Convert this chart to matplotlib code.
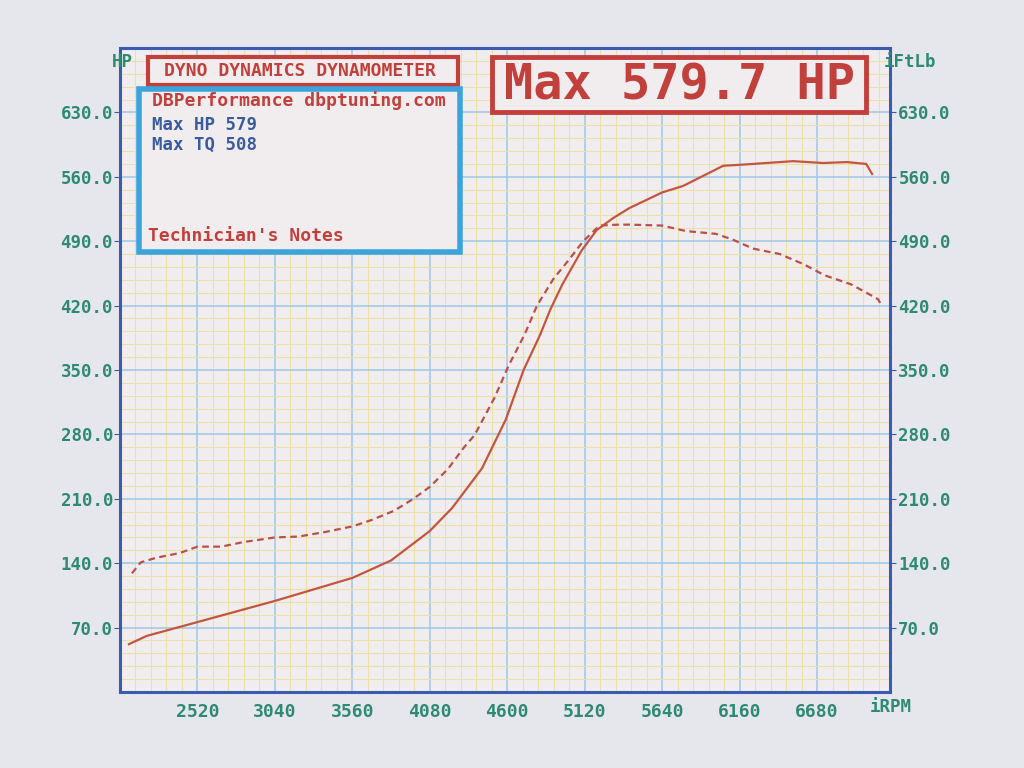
import numpy as np
import matplotlib
matplotlib.use("Agg")
import matplotlib.pyplot as plt
from matplotlib.patches import Rectangle
from matplotlib.ticker import FixedLocator

# ---------------- data ----------------
hp_rpm = [2060, 2180, 2520, 3040, 3560, 3820, 4080, 4230, 4430, 4590, 4710, 4820,
          4890, 4970, 5100, 5200, 5310, 5420, 5640, 5780, 5940, 6050, 6160, 6340,
          6520, 6720, 6880, 7010, 7050]
hp_vals = [52, 61, 76, 99, 124, 143, 175, 200, 243, 296, 350, 388,
           416, 443, 480, 502, 515, 526, 543, 550, 563, 572, 573, 575,
           577, 575, 576, 574, 563]

tq_rpm = [2080, 2140, 2245, 2400, 2520, 2680, 2830, 3040, 3200, 3380, 3560, 3690,
          3840, 3970, 4080, 4200, 4310, 4380, 4515, 4610, 4715, 4800, 4910, 5020,
          5110, 5220, 5350, 5420, 5640, 5800, 6000, 6110, 6250, 6430, 6590, 6730,
          6910, 7090, 7110]
tq_vals = [129, 141, 146, 151, 158, 158, 163, 168, 169, 174, 180, 187,
           197, 210, 223, 242, 266, 279, 320, 355, 388, 420, 449, 471,
           490, 507, 508, 508, 507, 501, 498, 492, 482, 476, 465, 453,
           443, 427, 421]

x_ticks = [2520, 3040, 3560, 4080, 4600, 5120, 5640, 6160, 6680]
y_ticks = [70, 140, 210, 280, 350, 420, 490, 560, 630]
x_tick_labels = [str(v) for v in x_ticks]
y_tick_labels = [f"{v:.1f}" for v in y_ticks]

title_small = "DYNO DYNAMICS DYNAMOMETER"
title_big = "Max 579.7 HP"
shop_line = "DBPerformance dbptuning.com"
info_lines = ["Max HP 579", "Max TQ 508"]
notes_line = "Technician's Notes"

# ---------------- style ----------------
W, H = 1024, 768
FIG_BG = "#e6e7ed"
PLOT_BG = "#f1edef"
BORDER = "#3b5bb0"
MAJOR = "#9cc8e4"
MINOR = "#ebe0a8"
LABEL = "#2e8a72"
RED = "#c2403c"
BLUE_TXT = "#3a5c9c"
BOX_BLUE = "#3ca4dc"
CURVE = "#c4553f"
MONO = "DejaVu Sans Mono"


def fx(x):
    return x / W


def fy(y):
    return 1 - y / H


fig = plt.figure(figsize=(W / 100, H / 100), dpi=100, facecolor=FIG_BG)
L, R, T, B = 120, 890, 48, 692
ax = fig.add_axes([fx(L), fy(B), fx(R) - fx(L), fy(T) - fy(B)])
ax.set_facecolor(PLOT_BG)
ax.set_xlim(2000, 7170)
ax.set_ylim(0, 700)

ax.xaxis.set_minor_locator(FixedLocator(list(np.arange(2000, 7200, 104))))
ax.yaxis.set_minor_locator(FixedLocator(list(np.arange(0, 700, 14))))
ax.set_axisbelow(True)
ax.set_xticks(x_ticks + [2000])
ax.set_xticklabels(x_tick_labels + [""])
ax.set_yticks(y_ticks)
ax.set_yticklabels(y_tick_labels)
ax.grid(which="minor", color=MINOR, lw=0.8, zorder=0)
ax.grid(which="major", color=MAJOR, lw=1.1, zorder=0.5)
ax.tick_params(which="minor", length=0)
ax.tick_params(axis="x", which="major", length=0, pad=8, labelsize=13, labelcolor=LABEL)
ax.tick_params(axis="y", which="major", length=4, color=BORDER, pad=1, labelsize=12.5,
               labelcolor=LABEL)
for lab in ax.get_xticklabels() + ax.get_yticklabels():
    lab.set_fontfamily(MONO)
    lab.set_fontweight("bold")
for sp in ax.spines.values():
    sp.set_color(BORDER)
    sp.set_linewidth(2.2)

ax2 = ax.twinx()
ax2.set_ylim(ax.get_ylim())
ax2.set_yticks(y_ticks)
ax2.set_yticklabels(y_tick_labels)
ax2.tick_params(axis="y", length=4, color=BORDER, pad=2, labelsize=12.5, labelcolor=LABEL)
for lab in ax2.get_yticklabels():
    lab.set_fontfamily(MONO)
    lab.set_fontweight("bold")
for sp in ax2.spines.values():
    sp.set_visible(False)

# curves
ax.plot(hp_rpm, hp_vals, color=CURVE, lw=1.6, zorder=3)
ax.plot(tq_rpm, tq_vals, color="#b9504a", lw=1.6, dashes=(3, 2), zorder=3)

# axis unit labels
fig.text(fx(133), fy(62), "HP", ha="right", va="center", color=LABEL, fontsize=12.5,
         family=MONO, weight="bold")
fig.text(fx(884), fy(62), "iFtLb", ha="left", va="center", color=LABEL, fontsize=12.5,
         family=MONO, weight="bold")
fig.text(fx(870), fy(707), "iRPM", ha="left", va="center", color=LABEL, fontsize=12.5,
         family=MONO, weight="bold")


def box(x0, y0, x1, y1, color, lw):
    fig.patches.append(Rectangle((fx(x0), fy(y1)), fx(x1) - fx(x0), fy(y0) - fy(y1),
                                 transform=fig.transFigure, facecolor=PLOT_BG,
                                 edgecolor=color, lw=lw, zorder=5))


box(148, 57, 458, 85, RED, 3)
fig.text(fx(300), fy(71), title_small, ha="center", va="center", color=RED, fontsize=13,
         family=MONO, weight="bold", zorder=6)

box(139, 89, 460, 252, BOX_BLUE, 4)
fig.text(fx(152), fy(101), shop_line, ha="left", va="center", color=RED, fontsize=13,
         family=MONO, weight="bold", zorder=6)
for i, line in enumerate(info_lines):
    fig.text(fx(152), fy(125 + 20 * i), line, ha="left", va="center", color=BLUE_TXT,
             fontsize=12.5, family=MONO, weight="bold", zorder=6)
fig.text(fx(148), fy(236), notes_line, ha="left", va="center", color=RED, fontsize=13,
         family=MONO, weight="bold", zorder=6)

box(492, 57, 866, 112, RED, 3.5)
fig.text(fx(679), fy(86), title_big, ha="center", va="center", color=RED, fontsize=35,
         family=MONO, weight="bold", zorder=6)

fig.savefig("out.png", dpi=100, facecolor=FIG_BG)
